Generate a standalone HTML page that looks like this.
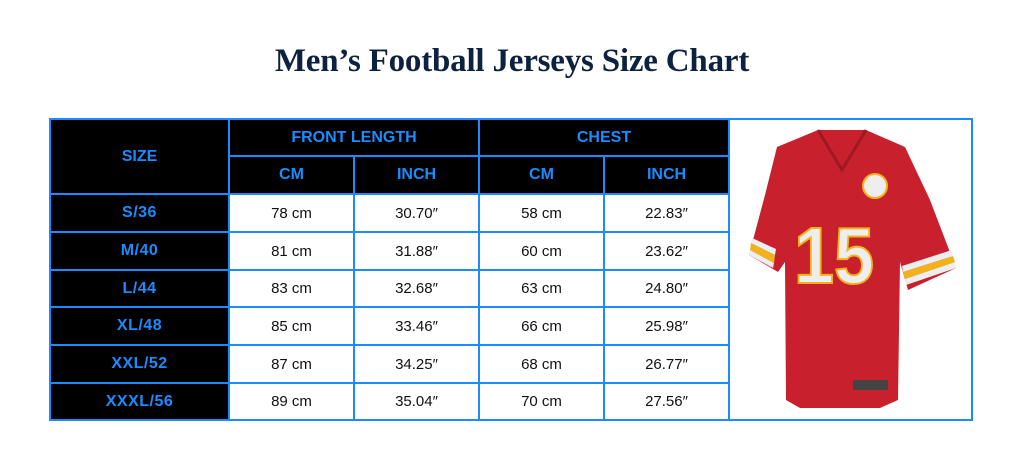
<!DOCTYPE html>
<html><head><meta charset="utf-8"><style>
body{margin:0;width:1024px;height:471px;background:#fff;position:relative;overflow:hidden}
h1{position:absolute;top:43px;left:0;width:1024px;text-align:center;margin:0;font:bold 33px "Liberation Serif",serif;color:#0d2240;letter-spacing:-0.2px}
table{position:absolute;left:49px;top:118px;border-collapse:collapse;font-family:"Liberation Sans",sans-serif}
td{border:2px solid #1a8cff;text-align:center;padding:0;font-size:15px;color:#111}
td.h{background:#000;color:#1a8cff;font-weight:bold;font-size:16px}
td.s{background:#000;color:#1a8cff;font-weight:bold;font-size:16px;letter-spacing:0.5px}
td.img{background:#fff}
</style></head><body>
<h1>Men’s Football Jerseys Size Chart</h1>
<table>
<tr style="height:37px"><td class="h" rowspan="2" style="width:177px">SIZE</td><td class="h" colspan="2">FRONT LENGTH</td><td class="h" colspan="2">CHEST</td><td class="img" rowspan="8" style="width:241px"></td></tr>
<tr style="height:38px"><td class="h" style="width:123px">CM</td><td class="h" style="width:123px">INCH</td><td class="h" style="width:123px">CM</td><td class="h" style="width:123px">INCH</td></tr>
<tr style="height:38px"><td class="s">S/36</td><td>78 cm</td><td>30.70″</td><td>58 cm</td><td>22.83″</td></tr>
<tr style="height:38px"><td class="s">M/40</td><td>81 cm</td><td>31.88″</td><td>60 cm</td><td>23.62″</td></tr>
<tr style="height:37px"><td class="s">L/44</td><td>83 cm</td><td>32.68″</td><td>63 cm</td><td>24.80″</td></tr>
<tr style="height:38px"><td class="s">XL/48</td><td>85 cm</td><td>33.46″</td><td>66 cm</td><td>25.98″</td></tr>
<tr style="height:38px"><td class="s">XXL/52</td><td>87 cm</td><td>34.25″</td><td>68 cm</td><td>26.77″</td></tr>
<tr style="height:37px"><td class="s">XXXL/56</td><td>89 cm</td><td>35.04″</td><td>70 cm</td><td>27.56″</td></tr>
</table>
<svg style="position:absolute;left:0;top:0" width="1024" height="471">
<path d="M818,130 L866,130 L905,147 L930,200 L956,268 L908,290 L900,262 L898,400 L880,408 L800,408 L786,400 L785,262 L778,272 L749,255 L765,195 L777,147 Z" fill="#c8202c"/>
<path d="M818,130 L842,170 L866,130" fill="none" stroke="#a01820" stroke-width="3"/>
<path d="M751,243 L775,255 L774,263 L750,250 Z" fill="#f2b31a"/>
<path d="M752,238 L776,249 L775,255 L751,243Z M750,250 L774,263 L773,268 L749,255Z" fill="#eee"/>
<path d="M903,272 L953,256 L955,262 L905,279Z" fill="#f2b31a"/>
<path d="M902,266 L952,250 L953,256 L903,272Z M905,279 L955,262 L956,268 L906,285Z" fill="#eee"/>
<text x="834" y="283" text-anchor="middle" font-family="Liberation Sans,sans-serif" font-weight="bold" font-size="80" fill="#eee" stroke="#f2b31a" stroke-width="2" transform="translate(834 0) scale(0.9 1) translate(-834 0)">15</text>
<circle cx="875" cy="186" r="12" fill="#eee" stroke="#f2b31a" stroke-width="2"/>
<rect x="853" y="380" width="35" height="10" fill="#444"/>
</svg>
</body></html>
